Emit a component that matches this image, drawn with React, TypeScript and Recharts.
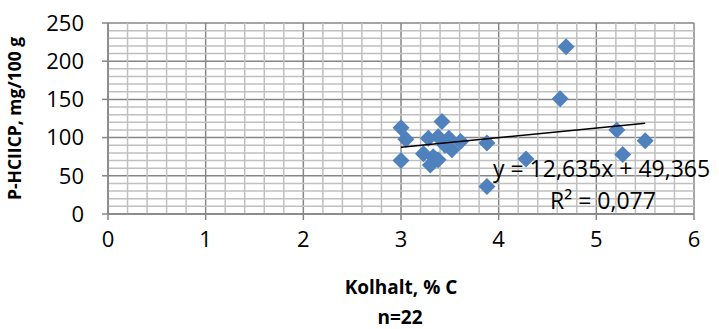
import {
  ScatterChart,
  Scatter,
  XAxis,
  YAxis,
  CartesianGrid,
  ReferenceLine,
  Label,
} from 'recharts'

const kolhalt = [
  3.0, 3.05, 3.0, 3.42, 3.28, 3.38, 3.49, 3.61, 3.52, 3.23, 3.33,
  3.3, 3.38, 3.45, 3.88, 3.88, 4.28, 4.63, 4.69, 5.21, 5.27, 5.5,
]
const phcl = [
  113, 98, 70, 121, 99, 101, 99, 95, 84, 79, 75,
  64, 71, 90, 93, 36, 72, 151, 219, 110, 78, 96,
]
const trendX = [3.0, 5.5]
const trendY = [87.3, 118.9]

const xTicks = [0, 1, 2, 3, 4, 5, 6]
const yTicks = [0, 50, 100, 150, 200, 250]
const xMinor = [
  0.2, 0.4, 0.6, 0.8, 1.2, 1.4, 1.6, 1.8, 2.2, 2.4, 2.6, 2.8,
  3.2, 3.4, 3.6, 3.8, 4.2, 4.4, 4.6, 4.8, 5.2, 5.4, 5.6, 5.8,
]
const yMinor = [
  10, 20, 30, 40, 60, 70, 80, 90, 110, 120, 130, 140, 160,
  170, 180, 190, 210, 220, 230, 240,
]

const points = kolhalt.map((x, i) => ({ x, y: phcl[i] }))
const trend = trendX.map((x, i) => ({ x, y: trendY[i] }))

const FONT = '"Open Sans", sans-serif'
const MAJOR = '#868686'
const MINOR = '#c0c0c0'

const Diamond = (props: any) => {
  const { cx, cy } = props
  const r = 8.5
  return (
    <path
      d={`M${cx},${cy - r}L${cx + r},${cy}L${cx},${cy + r}L${cx - r},${cy}Z`}
      fill="#4f81bd"
    />
  )
}

export default function App() {
  return (
    <div style={{ position: 'absolute', left: 0, top: 0, width: 719, height: 329, fontFamily: FONT }}>
      <ScatterChart
        width={719}
        height={329}
        margin={{ top: 23, right: 25, bottom: 85, left: 48 }}
      >
        {yMinor.map((v) => (
          <ReferenceLine key={'h' + v} y={v} stroke={MINOR} strokeWidth={1.5} />
        ))}
        {xMinor.map((v) => (
          <ReferenceLine key={'v' + v} x={v} stroke={MINOR} strokeWidth={1.5} />
        ))}
        <CartesianGrid
          stroke={MAJOR}
          strokeWidth={1.5}
          horizontalValues={yTicks}
          verticalValues={xTicks}
        />
        <XAxis
          type="number"
          dataKey="x"
          domain={[0, 6]}
          ticks={xTicks}
          height={30}
          axisLine={{ stroke: MAJOR, strokeWidth: 1.5 }}
          tickLine={{ stroke: MAJOR, strokeWidth: 1.5 }}
          tickSize={6}
          tickMargin={11}
          tick={{ fill: '#000', fontSize: 22, fontFamily: FONT }}
        >
          <Label
            value="Kolhalt, % C"
            position="bottom"
            offset={37}
            style={{ fontSize: 19, fontWeight: 700, fill: '#000', fontFamily: FONT }}
          />
        </XAxis>
        <YAxis
          type="number"
          dataKey="y"
          domain={[0, 250]}
          ticks={yTicks}
          width={60}
          axisLine={{ stroke: MAJOR, strokeWidth: 1.5 }}
          tickLine={{ stroke: MAJOR, strokeWidth: 1.5 }}
          tickSize={6}
          tickMargin={18}
          tick={{ fill: '#000', fontSize: 22, fontFamily: FONT }}
        >
          <Label
            value="P-HCIICP, mg/100 g"
            angle={-90}
            position="insideLeft"
            offset={-33}
            style={{ textAnchor: 'middle', fontSize: 17.5, fontWeight: 700, fill: '#000', fontFamily: FONT }}
          />
        </YAxis>
        <Scatter data={points} shape={<Diamond />} isAnimationActive={false} />
        <Scatter
          data={trend}
          line={{ stroke: '#000', strokeWidth: 1.5 }}
          shape={() => null}
          isAnimationActive={false}
        />
      </ScatterChart>
      <div style={{ position: 'absolute', left: 493, top: 153, fontSize: 23, lineHeight: '30px', whiteSpace: 'nowrap' }}>
        y = 12,635x + 49,365
      </div>
      <div style={{ position: 'absolute', left: 550, top: 185, fontSize: 23, lineHeight: '30px', whiteSpace: 'nowrap' }}>
        R² = 0,077
      </div>
      <div style={{ position: 'absolute', left: 0, width: 800, textAlign: 'center', top: 305, fontSize: 19, fontWeight: 700, lineHeight: '24px' }}>
        n=22
      </div>
    </div>
  )
}
